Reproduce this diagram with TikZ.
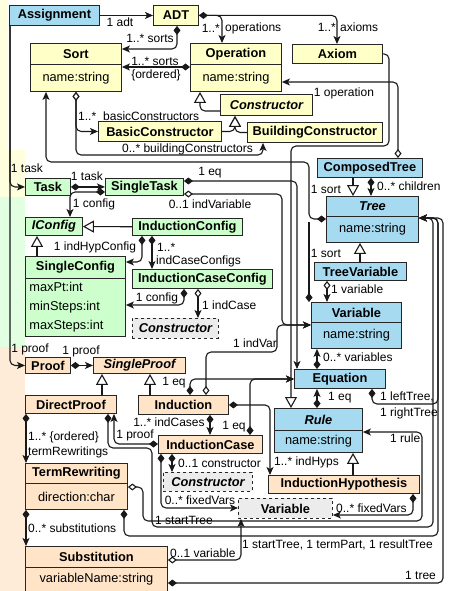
\documentclass[tikz,border=0pt]{standalone}
\usepackage{fontspec}
\setmainfont{Liberation Sans}
\usetikzlibrary{arrows.meta}

\definecolor{adtc}{RGB}{255,255,200}
\definecolor{adtbg}{RGB}{255,255,222}
\definecolor{blu}{RGB}{166,218,240}
\definecolor{grn}{RGB}{204,255,204}
\definecolor{grnbg}{RGB}{226,255,226}
\definecolor{pch}{RGB}{255,228,200}
\definecolor{pchbg}{RGB}{255,236,216}
\definecolor{ghostc}{RGB}{236,236,236}

\tikzset{
  cls/.style={draw=black!85, line width=0.9pt, inner sep=0pt, anchor=north west,
    font=\fontsize{12.8}{14}\selectfont\bfseries},
  abs/.style={cls, font=\fontsize{12.8}{14}\selectfont\bfseries\itshape},
  ghost/.style={abs, dashed, fill=ghostc},
  attr/.style={draw=black!85, line width=0.9pt, inner sep=0pt, anchor=north west,
    font=\fontsize{12.8}{19}\selectfont},
  lbl/.style={font=\fontsize{12}{13}\selectfont, inner sep=0pt},
  conn/.style={draw=black!90, line width=1.1pt, rounded corners=5pt},
  nav/.style={conn, -{Stealth[length=8pt,width=7pt,inset=2pt]}},
  comp/.style={conn, {Diamond[length=9pt,width=7pt]}-{Stealth[length=8pt,width=7pt,inset=2pt]}},
  compend/.style={conn, {Diamond[length=9pt,width=7pt]}-},
  aggr/.style={conn, {Diamond[open,length=9pt,width=7pt,fill=white]}-{Stealth[length=8pt,width=7pt,inset=2pt]}},
  gen/.style={conn, -{Triangle[open,length=11pt,width=12pt,fill=white]}},
}

\begin{document}
\begin{tikzpicture}[x=1pt,y=-1pt]
\useasboundingbox (0,0) rectangle (449,591);
% package strips
\fill[adtbg] (0,0) rectangle (8,197);
\fill[adtbg] (0,150) rectangle (25,197);
\fill[grnbg] (0,197) rectangle (25,347);
\fill[pchbg] (0,347) rectangle (25,591);

% ADT
\node[cls, fill=blu, minimum width=90pt, minimum height=20pt] (assign) at (9,5) {Assignment};
\node[cls, fill=adtc, minimum width=45pt, minimum height=20pt] (adt) at (153,5) {ADT};
\node[cls, fill=adtc, minimum width=91pt, minimum height=21pt] (sort) at (30,43) {Sort};
\node[attr, fill=adtc, minimum width=91pt, minimum height=27pt] (sortA) at (30,64) {name:string};
\node[cls, fill=adtc, minimum width=91pt, minimum height=21pt] (op) at (190,43) {Operation};
\node[attr, fill=adtc, minimum width=91pt, minimum height=27pt] (opA) at (190,64) {name:string};
\node[cls, fill=adtc, minimum width=90pt, minimum height=19pt] (axiom) at (292,44) {Axiom};
\node[abs, fill=adtc, minimum width=92pt, minimum height=21pt] (cons) at (220,94) {Constructor};
\node[cls, fill=adtc, minimum width=123pt, minimum height=20pt] (basic) at (98,121) {BasicConstructor};
\node[cls, fill=adtc, minimum width=135pt, minimum height=20pt] (build) at (247,122) {BuildingConstructor};

% trees
\node[cls, fill=blu, minimum width=105pt, minimum height=19pt] (ctree) at (317,158) {ComposedTree};
\node[abs, fill=blu, minimum width=92pt, minimum height=20pt] (tree) at (326,196) {Tree};
\node[attr, fill=blu, minimum width=92pt, minimum height=26pt] (treeA) at (326,216) {name:string};
\node[cls, fill=blu, minimum width=92pt, minimum height=18pt] (tvar) at (314,262) {TreeVariable};
\node[cls, fill=blu, minimum width=90pt, minimum height=20pt] (var) at (311,302) {Variable};
\node[attr, fill=blu, minimum width=90pt, minimum height=26pt] (varA) at (311,322) {name:string};
\node[cls, fill=blu, minimum width=91pt, minimum height=19pt] (eq) at (294,369) {Equation};
\node[abs, fill=blu, minimum width=88pt, minimum height=22pt] (rule) at (274,408) {Rule};
\node[attr, fill=blu, minimum width=88pt, minimum height=22pt] (ruleA) at (274,430) {name:string};

% task
\node[cls, fill=grn, minimum width=45pt, minimum height=17pt] (task) at (25,178) {Task};
\node[cls, fill=grn, minimum width=78pt, minimum height=17pt] (stask) at (105,178) {SingleTask};
\node[abs, fill=grn, minimum width=57pt, minimum height=18pt] (iconf) at (25,217) {IConfig};
\node[cls, fill=grn, minimum width=110pt, minimum height=17pt] (indconf) at (132,218) {InductionConfig};
\node[cls, fill=grn, minimum width=100pt, minimum height=22pt] (sconf) at (25,256) {SingleConfig};
\node[attr, fill=grn, text width=92pt, inner xsep=4pt, minimum height=58pt, align=left] (sconfA) at (25,278) {maxPt:int\\minSteps:int\\maxSteps:int};
\node[cls, fill=grn, minimum width=140pt, minimum height=19pt] (iccconf) at (132,269) {InductionCaseConfig};
\node[ghost, minimum width=86pt, minimum height=20pt] (gcons1) at (132,318) {Constructor};

% proof
\node[cls, fill=pch, minimum width=45pt, minimum height=16pt] (proof) at (25,357) {Proof};
\node[abs, fill=pch, minimum width=92pt, minimum height=16pt] (sproof) at (93,357) {SingleProof};
\node[cls, fill=pch, minimum width=91pt, minimum height=18pt] (dproof) at (25,395) {DirectProof};
\node[cls, fill=pch, minimum width=90pt, minimum height=19pt] (induct) at (138,395) {Induction};
\node[cls, fill=pch, minimum width=104pt, minimum height=18pt] (icase) at (158,435) {InductionCase};
\node[ghost, minimum width=89pt, minimum height=19pt] (gcons2) at (163,472) {Constructor};
\node[cls, fill=pch, minimum width=102pt, minimum height=20pt] (tr) at (25,463) {TermRewriting};
\node[attr, fill=pch, minimum width=102pt, minimum height=26pt] (trA) at (25,483) {direction:char};
\node[cls, fill=pch, minimum width=142pt, minimum height=21pt] (subst) at (25,546) {Substitution};
\node[attr, fill=pch, minimum width=142pt, minimum height=24pt] (substA) at (25,567) {variableName:string};
\node[cls, fill=pch, minimum width=151pt, minimum height=18pt] (ih) at (268,475) {InductionHypothesis};
\node[cls, dashed, fill=ghostc, minimum width=94pt, minimum height=20pt] (gvar) at (238,498) {Variable};

% ADT connectors
\draw[nav] (assign) -- (adt);
\draw[comp] (adt.south -| 177,0) |- (sort.east |- 0,49);
\draw[comp] (adt.east) -| (op.north -| 222,0);
\draw[nav] (adt.east) -| (axiom.north -| 337,0);
\draw[comp] (op.west |- 0,67) -- (sortA.east |- 0,67);
\draw[gen] (cons.west |- 0,111) -| (opA.south -| 200,0);
\draw[gen] (basic.east) -| (cons.south -| 235,0);
\draw[gen] (build.west) -| (cons.south -| 235,0);
\draw[aggr] (sortA.south -| 76,0) |- (basic.west);
\draw[aggr] (sortA.south -| 76,0) |- (263,155) -- (build.south -| 263,0);
\draw[comp] (tree.west |- 0,219) -| (309,162) -| (sortA.south -| 46,0);
\draw[compend] (var.north -| 309,0) -- (309,222);
\draw[aggr] (ctree.north -| 398,0) |- (opA.east |- 0,82);
\draw[gen] (axiom.east) -| (389,146) -| (rule.north -| 291,0);

% tree connectors
\draw[gen] (ctree.south -| 353,0) -- (tree.north -| 353,0);
\draw[comp] (ctree.south -| 371,0) -- (tree.north -| 371,0);
\draw[gen] (tvar.north -| 360,0) -- (treeA.south -| 360,0);
\draw[aggr] (tvar.south -| 327,0) -- (var.north -| 327,0);
\draw[comp] (eq.north -| 317,0) -- (varA.south -| 317,0);
\draw[comp] (rule.north -| 317,0) -- (eq.south -| 317,0);
\draw[comp] (eq.south -| 372,0) |- (438,404) |- (treeA.east |- 0,218);

% task connectors
\draw[nav] (assign.south -| 10,0) |- (task.west);
\draw[nav] (assign.south -| 10,0) |- (proof.west);
\draw[comp] (task) -- (stask);
\draw[comp] (stask.west |- 0,192) -| (iconf.north -| 70,0);
\draw[comp] (stask.east |- 0,181) -| (eq.north -| 297,0);
\draw[aggr] (stask.east |- 0,194) -| (282,325) -- (varA.west |- 0,325);
\draw[gen] (indconf) -- (iconf);
\draw[gen] (sconf.north -| 37,0) -- (iconf.south -| 37,0);
\draw[comp] (indconf.south -| 142,0) |- (sconf.east |- 0,262);
\draw[comp] (indconf.south -| 152,0) -- (iccconf.north -| 152,0);
\draw[comp] (iccconf.south -| 184,0) |- (sconfA.east |- 0,305);
\draw[aggr] (iccconf.south -| 198,0) -- (gcons1.north -| 198,0);

% proof connectors
\draw[comp] (proof) -- (sproof);
\draw[gen] (dproof.north -| 102,0) -- (sproof.south -| 102,0);
\draw[gen] (induct.north -| 150,0) -- (sproof.south -| 150,0);
\draw[aggr] (induct.north -| 206,0) |- (277,352) |- (varA.west |- 0,325);
\draw[comp] (induct.north -| 190,0) |- (eq.west |- 0,379);
\draw[comp] (icase.north -| 250,0) |- (eq.west |- 0,379);
\draw[comp] (induct.east) -| (ih.north -| 270,0);
\draw[comp] (induct.south -| 210,0) -- (icase.north -| 210,0);
\draw[comp] (icase.west |- 0,444) -| (dproof.south -| 114,0);
\draw[comp] (icase.south -| 172,0) -- (gcons2.north -| 172,0);
\draw[comp] (icase.south -| 161,0) |- (gvar.west |- 0,508);
\draw[gen] (ih.north -| 353,0) -- (ruleA.south -| 353,0);
\draw[comp] (ih.south -| 413,0) |- (gvar.east |- 0,515);
\draw[comp] (dproof.south -| 26,0) -- (tr.north -| 26,0);
\draw[comp] (trA.south -| 26,0) -- (subst.north -| 26,0);
\draw[comp] (dproof.south -| 108,0) |- (152,448) |- (433,527) |- (treeA.east |- 0,218);
\draw[aggr] (trA.east |- 0,487) -| (143,521) -| (422,432) -- (ruleA.east |- 0,432);
\draw[comp] (trA.south -| 124,0) |- (438,536) |- (treeA.east |- 0,218);
\draw[comp] (substA.east |- 0,583) -- (443,583) |- (treeA.east |- 0,218);
\draw[aggr] (subst.east |- 0,560) -| (gvar.south -| 241,0);

% labels
\node[lbl] (l1) at (120,22) {1 adt};
\node[lbl] (l2) at (150,38) {1..* sorts};
\node[lbl, anchor=east] (l3) at (220,28) {1..*};
\node[lbl, anchor=west] (l4) at (225,28) {operations};
\node[lbl, anchor=east] (l5) at (336,27) {1..*};
\node[lbl, anchor=west] (l6) at (340,27) {axioms};
\node[lbl] (l7) at (155,61) {1..* sorts};
\node[lbl] (l8) at (156,75) {\{ordered\}};
\node[lbl, anchor=west] (l9) at (78,116) {1..*};
\node[lbl, anchor=west] (l10) at (103,116) {basicConstructors};
\node[lbl, anchor=west] (l11) at (122,149) {0..* buildingConstructors};
\node[lbl] (l12) at (344,93) {1 operation};
\node[lbl] (l13) at (27,168) {1 task};
\node[lbl] (l14) at (87,176) {1 task};
\node[lbl] (l15) at (210,173) {1 eq};
\node[lbl] (l16) at (94,204) {1 config};
\node[lbl] (l17) at (210,204) {0..1 indVariable};
\node[lbl] (l18) at (326,189) {1 sort};
\node[lbl, anchor=west] (l19) at (377,186) {0..* children};
\node[lbl] (l20) at (326,253) {1 sort};
\node[lbl, anchor=west] (l21) at (331,289) {1 variable};
\node[lbl] (l22) at (95,247) {1 indHypConfig};
\node[lbl, anchor=west] (l23) at (157,247) {1..*};
\node[lbl, anchor=west] (l24) at (156,261) {indCaseConfigs};
\node[lbl] (l25) at (157,298) {1 config};
\node[lbl, anchor=west] (l26) at (202,305) {1 indCase};
\node[lbl] (l27) at (255,343) {1 indVar};
\node[lbl, anchor=west] (l28) at (323,357) {0..* variables};
\node[lbl] (l29) at (30,349) {1 proof};
\node[lbl] (l30) at (81,351) {1 proof};
\node[lbl] (l31) at (174,383) {1 eq};
\node[lbl, anchor=west] (l32) at (328,398) {1 eq};
\node[lbl, anchor=west] (l33) at (380,397) {1 leftTree,};
\node[lbl, anchor=west] (l34) at (380,413) {1 rightTree};
\node[lbl] (l35) at (169,422) {1..* indCases};
\node[lbl] (l36) at (234,427) {1 eq};
\node[lbl] (l37) at (135,435) {1 proof};
\node[lbl, anchor=west] (l38) at (390,438) {1 rule};
\node[lbl, anchor=west] (l39) at (28,437) {1..* \{ordered\}};
\node[lbl, anchor=west] (l40) at (28,452) {termRewritings};
\node[lbl, anchor=west] (l41) at (178,463) {0..1 constructor};
\node[lbl, anchor=west] (l42) at (274,462) {1..* indHyps};
\node[lbl] (l43) at (200,500) {0..* fixedVars};
\node[lbl, anchor=west] (l44) at (336,508) {0..* fixedVars};
\node[lbl, anchor=west] (l45) at (155,520) {1 startTree};
\node[lbl, anchor=west] (l46) at (28,528) {0..* substitutions};
\node[lbl, anchor=west] (l47) at (242,545) {1 startTree, 1 termPart, 1 resultTree};
\node[lbl, anchor=west] (l48) at (170,553) {0..1 variable};
\node[lbl, anchor=west] (l49) at (405,575) {1 tree};
\end{tikzpicture}
\end{document}
